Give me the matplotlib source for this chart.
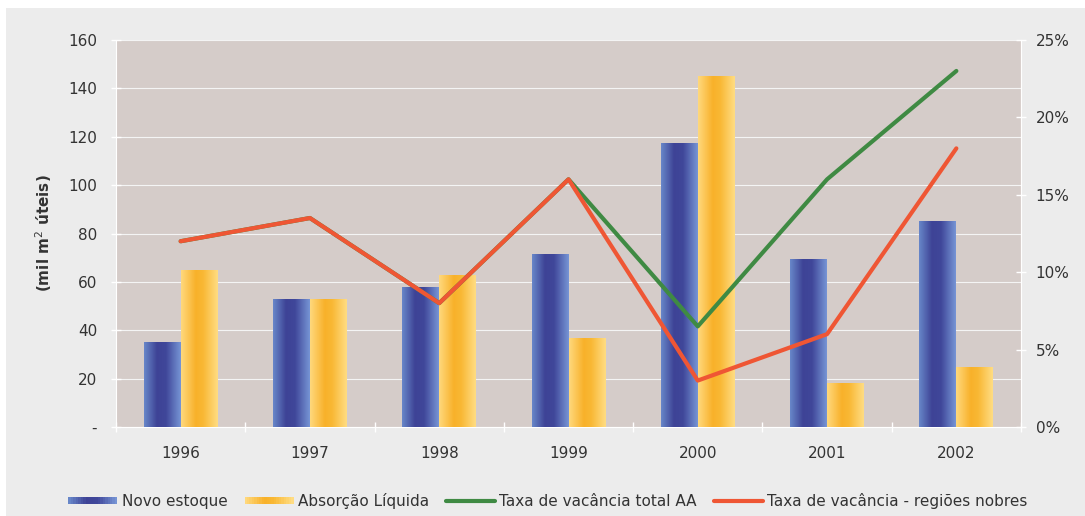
import numpy as np
import matplotlib
matplotlib.use('Agg')
import matplotlib.pyplot as plt
from matplotlib.patches import Rectangle
from matplotlib.legend_handler import HandlerBase
from matplotlib.lines import Line2D
from matplotlib.colors import LinearSegmentedColormap
from matplotlib.ticker import FuncFormatter, FixedLocator

# data
years = ['1996', '1997', '1998', '1999', '2000', '2001', '2002']
novo_estoque = [35, 53, 58, 71.5, 117.5, 69.5, 85]
absorcao = [65, 53, 63, 37, 145, 18, 25]
vac_total = [12.0, 13.5, 8.0, 16.0, 6.5, 16.0, 23.0]
vac_nobres = [12.0, 13.5, 8.0, 16.0, 3.0, 6.0, 18.0]

labels = ['Novo estoque', 'Absorção Líquida',
          'Taxa de vacância total AA', 'Taxa de vacância - regiões nobres']

blue_cmap = LinearSegmentedColormap.from_list(
    'blue', [(0, '#6786c8'), (0.35, '#3e4396'), (0.6, '#40479a'), (1, '#7694d4')])
orange_cmap = LinearSegmentedColormap.from_list(
    'orange', [(0, '#ffd87c'), (0.4, '#f8b12a'), (0.6, '#f9b834'), (1, '#ffdc82')])
green = '#3f8a43'
red = '#ef5634'
txt = '#333333'

plt.rcParams['font.family'] = ['DejaVu Sans']

fig = plt.figure(figsize=(10.85, 5.16), dpi=100)
fig.patch.set_facecolor('white')
fig.patches.append(Rectangle((6 / 1085, 0), 1 - 6 / 1085, 1 - 8 / 516,
                             transform=fig.transFigure, facecolor='#ececec',
                             edgecolor='none', zorder=-10))

ax = fig.add_axes([116 / 1085, 89 / 516, 905 / 1085, 387 / 516])
ax.set_facecolor('#d5ccc9')
ax2 = ax.twinx()

x = np.arange(len(years))
w = 0.286
b1 = ax.bar(x - w / 2, novo_estoque, w, color='none', zorder=3)
b2 = ax.bar(x + w / 2, absorcao, w, color='none', zorder=3)

grad = np.linspace(0, 1, 64).reshape(1, -1)
for bars, cmap in [(b1, blue_cmap), (b2, orange_cmap)]:
    for p in bars:
        x0, y0 = p.get_x(), p.get_y()
        im = ax.imshow(grad, cmap=cmap, aspect='auto', zorder=3,
                       extent=[x0, x0 + p.get_width(), y0, y0 + p.get_height()])
        im.set_clip_path(p)

ax.set_xlim(-0.5, len(years) - 0.5)
ax.set_ylim(0, 160)
ax.set_yticks(np.arange(0, 161, 20))
ax.yaxis.set_major_formatter(FuncFormatter(lambda v, p: '-' if v == 0 else f'{v:.0f}'))
ax.grid(axis='y', color='#f4f4f4', linewidth=0.8, zorder=1)
ax.set_axisbelow(True)
ax.set_xticks(x)
ax.set_xticklabels(years)
ax.xaxis.set_minor_locator(FixedLocator(np.arange(-0.5, len(years), 1.0)))
ax.tick_params(axis='x', which='major', length=0, pad=14, labelsize=11, labelcolor=txt)
ax.tick_params(axis='x', which='minor', length=7, direction='inout', color='white', width=1)
ax.tick_params(axis='y', length=7, direction='inout', color='white', width=1,
               pad=10, labelsize=11, labelcolor=txt)
ax.spines['top'].set_visible(False)
for s in ['left', 'bottom', 'right']:
    ax.spines[s].set_color('white')
ax.set_ylabel('(mil m$^2$ úteis)', fontsize=11, fontweight='bold', color=txt, labelpad=10)

ax2.plot(x, vac_total, color=green, linewidth=3, solid_capstyle='round', zorder=4)
ax2.plot(x, vac_nobres, color=red, linewidth=3, solid_capstyle='round', zorder=5)
ax2.set_ylim(0, 25)
ax2.set_yticks(np.arange(0, 26, 5))
ax2.yaxis.set_major_formatter(FuncFormatter(lambda v, p: f'{v:.0f}%'))
ax2.tick_params(axis='y', length=7, direction='inout', color='white', width=1,
                pad=7, labelsize=11, labelcolor=txt)
for s in ['top', 'left', 'bottom']:
    ax2.spines[s].set_visible(False)
ax2.spines['right'].set_color('white')


class GradHandler(HandlerBase):
    def __init__(self, cmap):
        super().__init__()
        self.cmap = cmap

    def create_artists(self, legend, orig_handle, xdescent, ydescent, width,
                       height, fontsize, trans):
        n = 20
        arts = []
        for i in range(n):
            r = Rectangle((-xdescent + width * i / n, -ydescent + height * 0.15),
                          width / n * 1.05, height * 0.7,
                          facecolor=self.cmap(i / (n - 1)), edgecolor='none',
                          transform=trans)
            arts.append(r)
        return arts


h1 = Rectangle((0, 0), 1, 1)
h2 = Rectangle((0, 0), 1, 1)
h3 = Line2D([], [], color=green, linewidth=3, solid_capstyle='round')
h4 = Line2D([], [], color=red, linewidth=3, solid_capstyle='round')
fig.legend([h1, h2, h3, h4], labels, loc='center', bbox_to_anchor=(548 / 1085, 1 - 501 / 516),
           ncol=4, frameon=False, fontsize=11, handlelength=3.2, handletextpad=0.3,
           columnspacing=1.1, labelcolor=txt,
           handler_map={h1: GradHandler(blue_cmap), h2: GradHandler(orange_cmap)})

fig.savefig('out.png', dpi=100, facecolor=fig.get_facecolor())
